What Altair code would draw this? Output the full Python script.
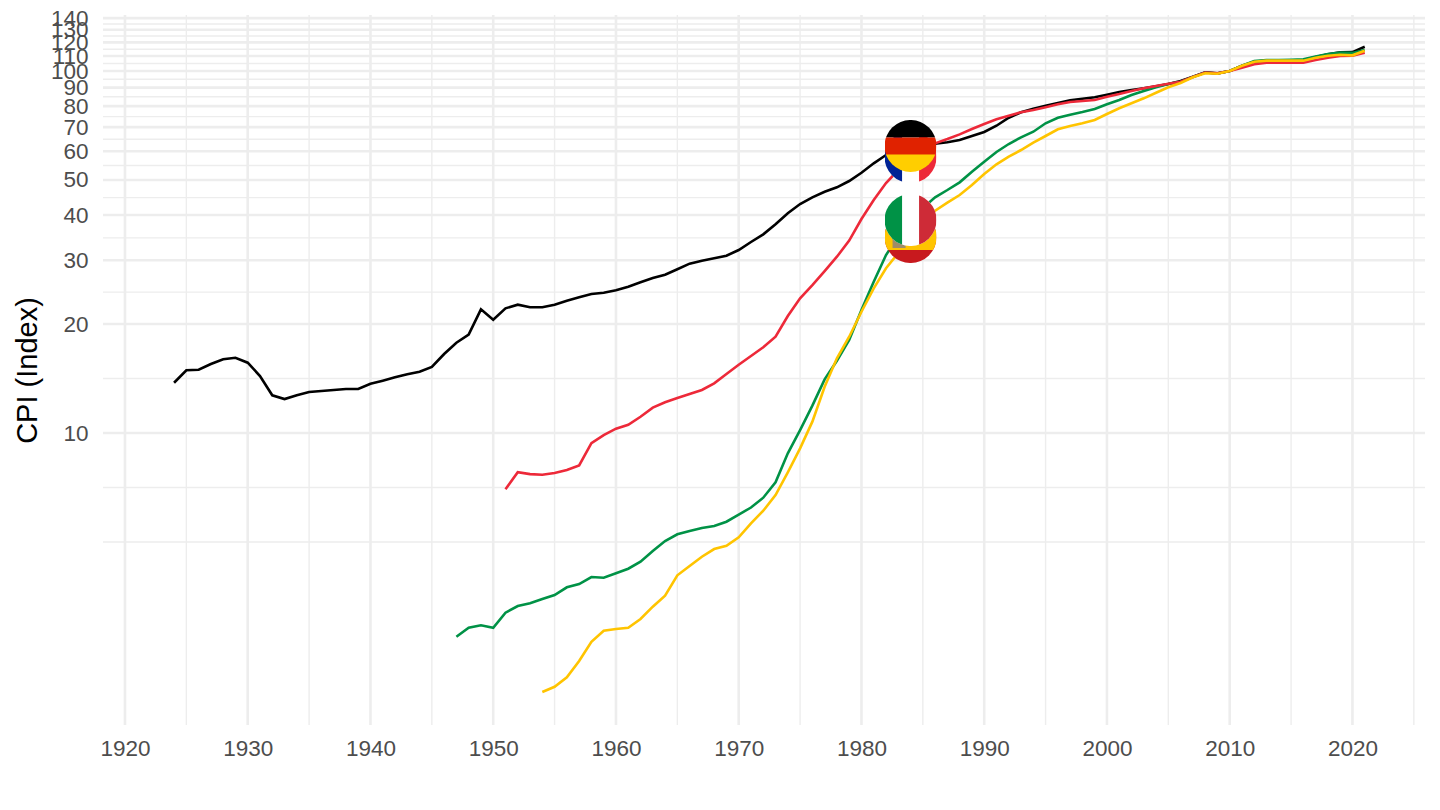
import base64
import altair as alt
import pandas as pd

germany_years = list(range(1924, 2022))
germany = [13.77,14.90,14.96,15.51,15.98,16.14,15.64,14.37,12.71,12.41,12.71,12.98,13.06,13.15,13.23,13.23,
13.68,13.95,14.25,14.53,14.77,15.22,16.53,17.76,18.69,21.96,20.56,22.10,22.62,22.25,22.25,22.62,23.20,23.71,
24.21,24.41,24.79,25.36,26.08,26.80,27.37,28.33,29.36,29.92,30.38,30.89,32.03,33.70,35.39,37.71,40.45,42.91,
44.78,46.41,47.72,49.67,52.37,55.59,58.61,60.89,62.07,62.65,62.97,63.54,64.47,66.14,67.84,70.61,74.30,76.90,
78.68,80.19,81.58,83.00,83.85,84.60,86.00,87.49,88.61,89.58,90.73,92.07,93.84,96.44,99.18,98.54,100.0,103.4,
106.1,106.8,106.8,106.8,107.2,109.3,111.2,112.6,112.8,116.7]

france_years = list(range(1951, 2022))
france = [6.99,7.79,7.70,7.67,7.75,7.90,8.14,9.37,9.87,10.28,10.54,11.09,11.75,12.16,12.49,12.82,13.15,13.72,
14.55,15.44,16.32,17.25,18.45,21.05,23.56,25.63,28.02,30.69,34.02,39.01,44.02,49.05,53.28,57.87,60.50,63.13,
64.88,66.84,69.15,71.39,73.54,75.25,76.90,78.03,79.38,80.90,82.10,82.63,83.15,84.92,86.39,88.05,89.58,90.91,
92.24,93.42,96.26,99.05,98.54,100.0,102.1,104.4,105.4,105.4,105.5,105.5,107.2,108.8,110.0,110.2,112.4]

italy_years = list(range(1947, 2022))
italy = [2.737,2.898,2.943,2.898,3.189,3.327,3.385,3.479,3.569,3.748,3.827,4.001,3.984,4.096,4.218,4.410,4.721,
5.031,5.250,5.362,5.465,5.535,5.688,5.947,6.226,6.627,7.308,8.789,10.19,11.90,14.07,15.84,18.07,21.87,26.18,
31.02,35.01,38.76,41.84,44.78,46.91,49.26,52.70,56.16,59.74,62.86,65.59,67.97,71.71,74.30,75.74,77.05,78.53,
80.90,83.15,85.84,88.05,90.15,92.07,93.42,96.26,99.05,98.4,100.0,103.4,106.5,107.2,107.2,107.4,107.7,109.7,
111.4,112.4,112.2,114.3]

spain_years = list(range(1954, 2022))
spain = [1.925,1.991,2.114,2.345,2.651,2.844,2.875,2.898,3.063,3.313,3.553,4.045,4.291,4.553,4.781,4.883,5.151,
5.630,6.100,6.741,7.79,9.07,10.75,13.42,16.08,18.45,21.63,25.10,28.51,31.42,34.79,38.27,41.12,43.27,45.44,48.43,
51.94,55.24,57.98,60.50,63.38,66.14,69.02,70.47,71.71,73.21,76.08,78.88,81.43,84.06,87.11,90.15,92.65,96.07,
98.54,98.29,100.0,103.4,106.1,106.8,106.8,106.8,106.8,108.8,110.2,110.9,110.5,113.8]

y_major = [10,20,30,40,50,60,70,80,90,100,110,120,130,140]
y_minor = [5,7.07,14.14,24.5,34.6,44.7,54.8,64.8,74.8,84.9,94.9,104.9,114.9,124.9,134.9]
x_major = [1920,1930,1940,1950,1960,1970,1980,1990,2000,2010,2020]
x_minor = [1925,1935,1945,1955,1965,1975,1985,1995,2005,2015,2025]

flag_names = ["France", "Germany", "Spain", "Italy"]
flag_years = [1984, 1984, 1984, 1984]
flag_values = [57.87, 62.07, 34.79, 38.76]


def svg_flag(body):
    svg = ('<svg xmlns="http://www.w3.org/2000/svg" width="104" height="104" viewBox="0 0 104 104">'
           '<defs><clipPath id="c"><circle cx="52" cy="52" r="52"/></clipPath></defs>'
           '<g clip-path="url(#c)">' + body + '</g></svg>')
    return "data:image/svg+xml;base64," + base64.b64encode(svg.encode()).decode()


flag_art = {
    "France": '<rect width="104" height="104" fill="#fff"/><rect width="35" height="104" fill="#002395"/>'
              '<rect x="69" width="35" height="104" fill="#ED2939"/>',
    "Germany": '<rect width="104" height="35" fill="#000"/><rect y="35" width="104" height="35" fill="#E02200"/>'
               '<rect y="69" width="104" height="35" fill="#FFCE00"/>',
    "Spain": '<rect width="104" height="104" fill="#C8191E"/><rect y="26" width="104" height="52" fill="#FFC400"/>'
             '<rect x="16" y="44" width="26" height="30" fill="#A08C68"/>',
    "Italy": '<rect width="104" height="104" fill="#fff"/><rect width="35" height="104" fill="#009246"/>'
             '<rect x="69" width="35" height="104" fill="#CE2B37"/>',
}

x_scale = alt.Scale(domain=[1918.21, 2025.91], nice=False, zero=False)
y_scale = alt.Scale(type="log", domain=[1.561, 142.8], nice=False)
FONT = "Liberation Sans"
GRID = "#EDEDED"

x_axis = alt.Axis(values=x_major, format="d", title=None, grid=False, ticks=False, domain=False,
                  labelFont=FONT, labelFontSize=22.5, labelColor="#4D4D4D", labelPadding=12, labelOverlap=False)
y_axis = alt.Axis(values=y_major, format="d", title="CPI (Index)", grid=False, ticks=False, domain=False,
                  labelFont=FONT, labelFontSize=22.5, labelColor="#4D4D4D", labelPadding=15, labelOverlap=False,
                  titleFont=FONT, titleFontSize=29, titleFontWeight="normal", titleColor="#000000",
                  titlePadding=8)


def y_rules(values, width):
    df = pd.DataFrame({"cpi": values})
    return alt.Chart(df).mark_rule(color=GRID, strokeWidth=width).encode(
        y=alt.Y("cpi:Q", scale=y_scale, axis=y_axis))


def x_rules(values, width):
    df = pd.DataFrame({"year": values})
    return alt.Chart(df).mark_rule(color=GRID, strokeWidth=width).encode(
        x=alt.X("year:Q", scale=x_scale, axis=x_axis))


def series(years, values, color):
    df = pd.DataFrame({"year": years, "cpi": values})
    return alt.Chart(df).mark_line(color=color, strokeWidth=2.6).encode(
        x=alt.X("year:Q", scale=x_scale, axis=x_axis),
        y=alt.Y("cpi:Q", scale=y_scale, axis=y_axis),
    )


flags_df = pd.DataFrame({"year": flag_years, "cpi": flag_values,
                         "url": [svg_flag(flag_art[n]) for n in flag_names]})
flags = alt.Chart(flags_df).mark_image(width=52, height=52).encode(
    x=alt.X("year:Q", scale=x_scale, axis=x_axis),
    y=alt.Y("cpi:Q", scale=y_scale, axis=y_axis),
    url="url:N",
)

chart = alt.layer(
    y_rules(y_minor, 1.4),
    y_rules(y_major, 2.6),
    x_rules(x_minor, 1.4),
    x_rules(x_major, 2.6),
    series(germany_years, germany, "#000000"),
    series(italy_years, italy, "#009246"),
    series(france_years, france, "#ED2939"),
    series(spain_years, spain, "#FFC400"),
    flags,
).properties(
    width=1322, height=710,
    autosize=alt.AutoSizeParams(type="none"),
    padding={"left": 95, "top": 7, "right": 7, "bottom": 70},
).configure_view(strokeWidth=0)

chart.save("out.html", embed_options={"renderer": "svg", "actions": False})
